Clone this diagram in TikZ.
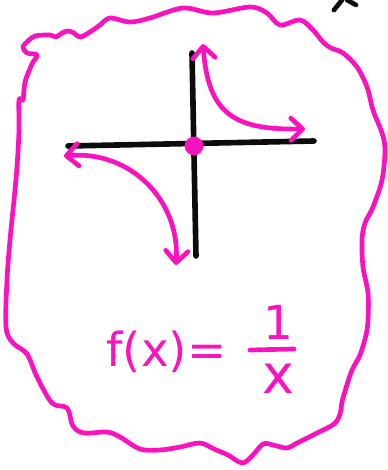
\documentclass[tikz,border=0pt]{standalone}
\usepackage{fontspec}
\setmainfont{DejaVu Sans}
\usetikzlibrary{arrows.meta,positioning,calc}
\definecolor{HypPink}{RGB}{250,18,190}
\definecolor{HypInk}{RGB}{12,12,12}
\tikzset{
  hyp/blob/.style={
    draw=HypPink,
    line width=4pt,
    line join=round
  },
  hyp/axis/.style={draw=HypInk, line width=4.8pt, line cap=round},
  hyp/branch/.style={
    {Straight Barb[round,length=10pt,width=19pt]}-{Straight Barb[round,length=10pt,width=19pt]},
    draw=HypPink,
    line width=4pt,
    line cap=round
  },
  hyp/bar/.style={draw=HypPink, line width=4pt, line cap=round},
  hyp/dot/.style={circle, fill=HypPink, inner sep=0pt, minimum size=16pt},
  hyp/formula/.style={text=HypPink, inner sep=0pt, font=\fontsize{40}{44}\selectfont}
}

\begin{document}
\begin{tikzpicture}[x=0.03cm,y=-0.03cm]
  \useasboundingbox (0,0) rectangle (388,470);
  % wobbly outline
  \draw[hyp/blob] plot[smooth cycle, tension=0.55] coordinates {
    (37,55) (27,53) (23,47) (28,41) (35,36) (50,35) (56,37) (62,33) (68,31)
    (74,33) (80,37) (90,32) (100,25) (110,18) (130,22) (150,18) (183,8)
    (213,13) (250,7) (267,13) (280,25) (300,20) (313,30) (323,42) (331,48)
    (343,53) (357,67) (367,87) (373,110) (382,133) (385,150) (382,180)
    (373,207) (365,223) (362,240) (363,267) (368,293) (368,320) (366,335)
    (360,355) (352,370) (346,388) (342,402) (340,414) (334,424) (317,433)
    (297,443) (287,448) (273,445) (263,444) (252,456) (242,463) (228,455)
    (214,449) (200,443) (180,447) (160,450) (140,449) (120,437) (107,432)
    (84,433) (73,426) (67,408) (52,403) (37,377) (27,354) (13,343) (6,327)
    (7,280) (10,240) (14,200) (17,167) (19,130) (19,100) (23,100) (25,82)
    (32,64)};
  % cut-off mark at the top edge
  \draw[hyp/axis, line width=4pt] (342,0) -- (334,10);
  \draw[hyp/axis, line width=4pt] (347,0) -- (356,5);
  % axes
  \coordinate (xleft) at (68,146);
  \coordinate (xright) at (314,141);
  \coordinate (ytop) at (192,53);
  \coordinate (ybot) at (196,256);
  \draw[hyp/axis] (xleft) -- (xright);
  \draw[hyp/axis] (ytop) -- (ybot);
  \node[hyp/dot] (origin) at (194,146) {};
  % branches of 1/x
  \coordinate (upTip) at (203,44);
  \coordinate (rightTip) at (305,129);
  \coordinate (leftTip) at (64,156);
  \coordinate (downTip) at (176,265);
  \draw[hyp/branch] (upTip) .. controls (208,115) and (235,130) .. (rightTip);
  \draw[hyp/branch] (leftTip) .. controls (130,150) and (180,200) .. (downTip);
  % formula
  \node[hyp/formula, anchor=base west] (lhs) at (106,366) {f(x)=};
  \coordinate (barL) at (250,350);
  \coordinate (barR) at (294,349);
  \draw[hyp/bar] (barL) -- (barR);
  \node[hyp/formula, anchor=south] (num) at ($(barL)!0.65!(barR)+(0,-10)$) {1};
  \node[hyp/formula, anchor=north, font=\fontsize{46}{50}\selectfont] (den) at ($(barL)!0.65!(barR)+(0,14)$) {x};
\end{tikzpicture}
\end{document}
